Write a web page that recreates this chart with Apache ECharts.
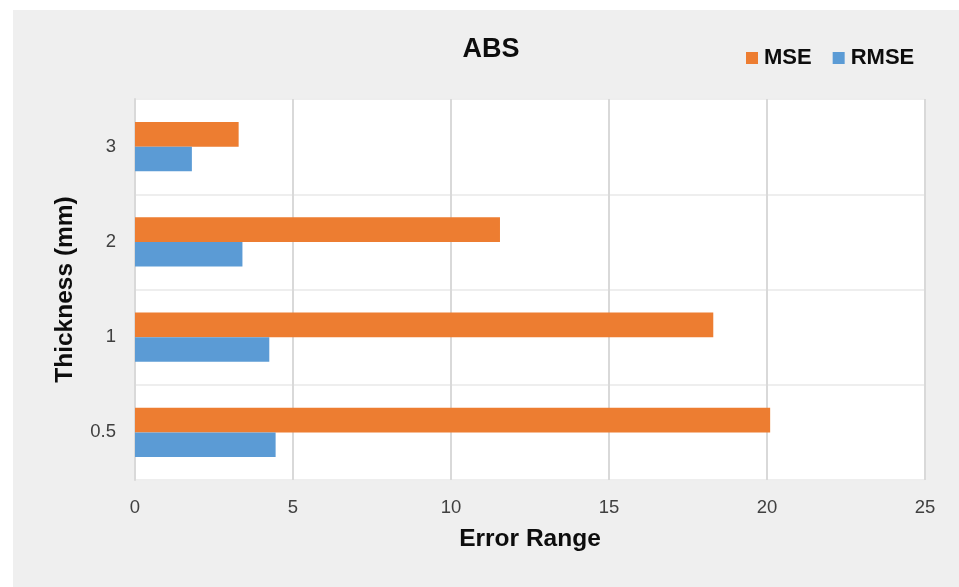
<!DOCTYPE html>
<html>
<head>
<meta charset="utf-8">
<script src="https://cdn.jsdelivr.net/npm/echarts@6/dist/echarts.min.js"></script>
<style>
html,body{margin:0;padding:0;background:#fff;}
#chart{width:959px;height:587px;background:linear-gradient(#efefef,#efefef) 13px 10px / 946px 577px no-repeat,#fff;}
</style>
</head>
<body>
<div id="chart"></div>
<script>
var categories = ['0.5', '1', '2', '3'];
var mseValues = [20.1, 18.3, 11.55, 3.28];
var rmseValues = [4.45, 4.25, 3.4, 1.8];
var xTicks = { min: 0, max: 25, interval: 5 };

var FONT = '"Liberation Sans", Arial, sans-serif';
var chart = echarts.init(document.getElementById('chart'), null, { renderer: 'canvas' });
chart.setOption({
  backgroundColor: 'transparent',
  animation: false,
  title: {
    text: 'ABS',
    left: 486,
    textAlign: 'center',
    top: 31,
    textStyle: { fontFamily: FONT, fontSize: 27, fontWeight: 'bold', color: '#0d0d0d' }
  },
  legend: {
    data: ['MSE', 'RMSE'],
    left: 741,
    top: 42,
    icon: 'rect',
    itemWidth: 12,
    itemHeight: 12,
    itemGap: 21,
    textStyle: { fontFamily: FONT, fontSize: 22, fontWeight: 'bold', color: '#0d0d0d', padding: [0, 0, 0, 1] }
  },
  grid: { left: 135, top: 99, right: 34, bottom: 107, show: true, backgroundColor: '#ffffff', borderWidth: 0 },
  xAxis: {
    type: 'value',
    min: xTicks.min, max: xTicks.max, interval: xTicks.interval,
    name: 'Error Range',
    nameLocation: 'middle',
    nameGap: 47,
    nameTextStyle: { fontFamily: FONT, fontSize: 24.5, fontWeight: 'bold', color: '#0d0d0d' },
    axisLine: { show: false },
    axisTick: { show: false },
    axisLabel: { fontFamily: FONT, fontSize: 18.5, color: '#404040', margin: 18 },
    splitLine: { show: true, lineStyle: { color: '#d9d9d9', width: 2 } }
  },
  yAxis: {
    type: 'category',
    data: categories,
    name: 'Thickness (mm)',
    nameLocation: 'middle',
    nameGap: 57,
    nameTextStyle: { fontFamily: FONT, fontSize: 24.5, fontWeight: 'bold', color: '#0d0d0d' },
    axisLine: { show: true, lineStyle: { color: '#d9d9d9', width: 2 } },
    axisTick: { show: false },
    axisLabel: { fontFamily: FONT, fontSize: 18.5, color: '#404040', margin: 19 },
    splitLine: { show: true, lineStyle: { color: '#eeeeee', width: 2 } }
  },
  series: [
    {
      name: 'MSE', type: 'bar', data: mseValues,
      barGap: '0%', barCategoryGap: '48.5%',
      itemStyle: { color: '#ED7D31' }
    },
    {
      name: 'RMSE', type: 'bar', data: rmseValues,
      barGap: '0%', barCategoryGap: '48.5%',
      itemStyle: { color: '#5B9BD5' }
    }
  ]
});
</script>
</body>
</html>
